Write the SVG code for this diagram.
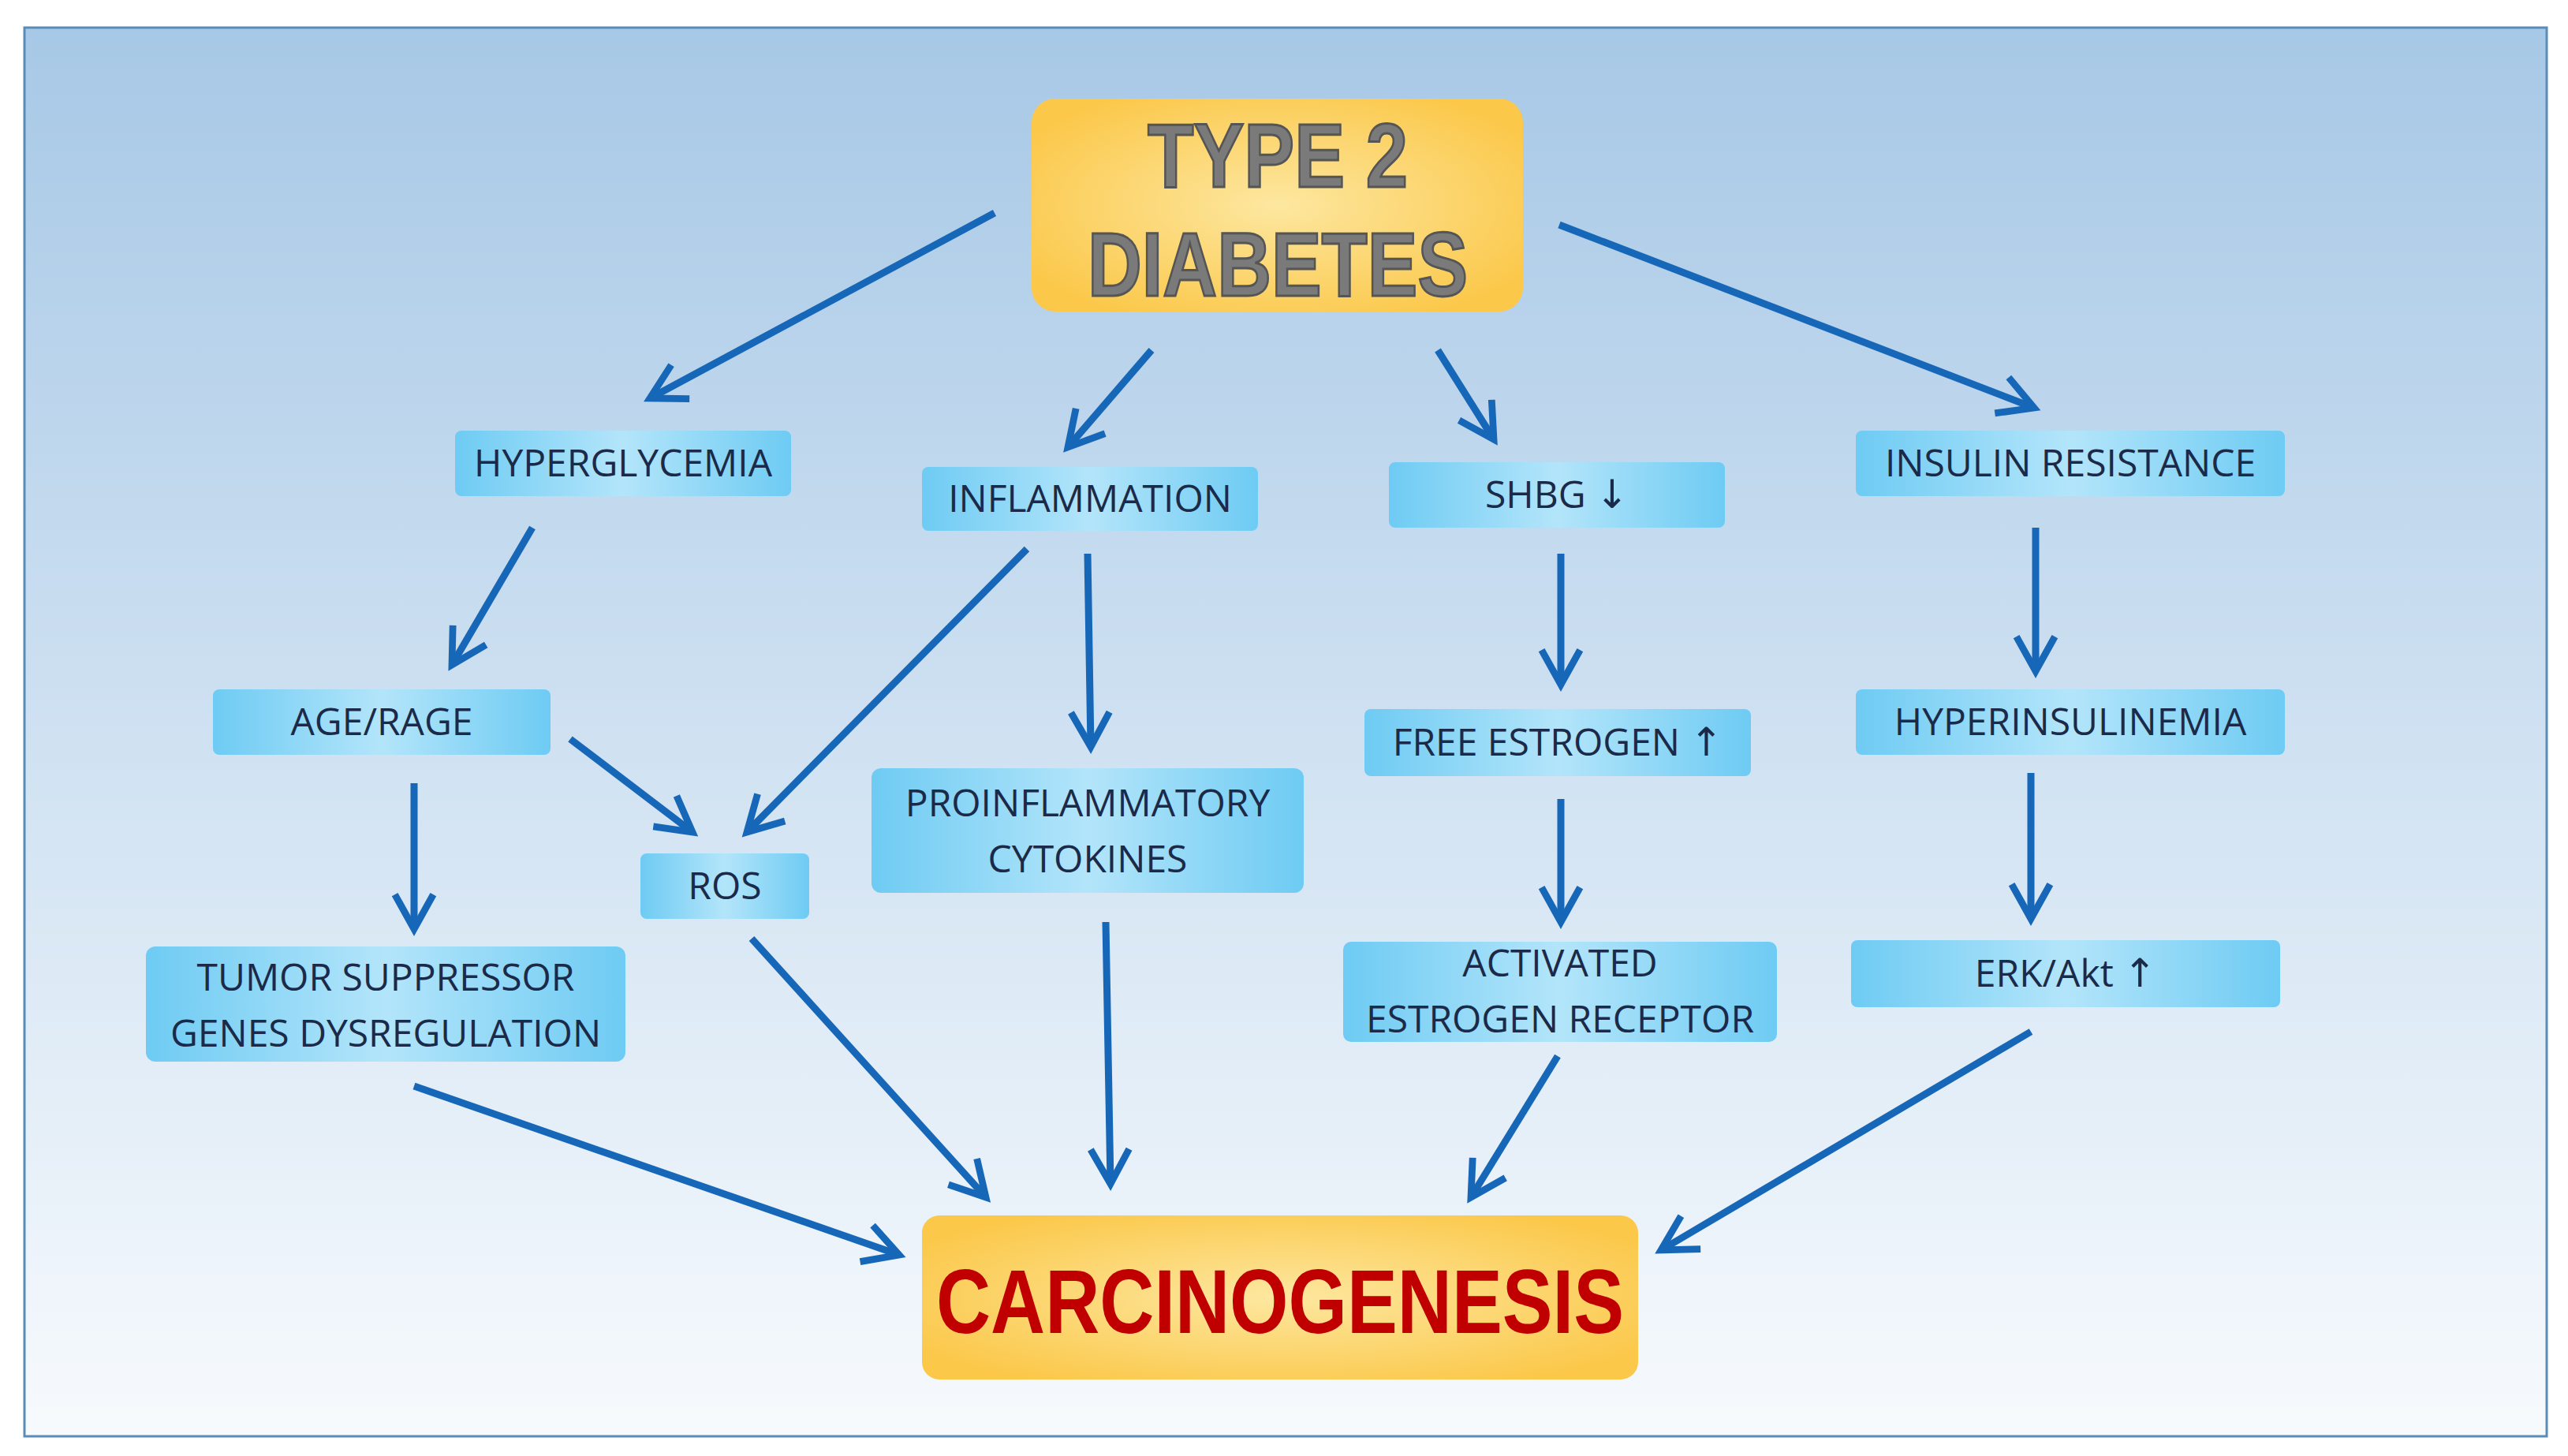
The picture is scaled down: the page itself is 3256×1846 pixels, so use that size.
<svg xmlns="http://www.w3.org/2000/svg" width="3256" height="1846" viewBox="0 0 3256 1846">
<defs>
<linearGradient id="bg" x1="0" y1="0" x2="0" y2="1"><stop offset="0" stop-color="#a7c8e6"/><stop offset="1" stop-color="#f7fafd"/></linearGradient>
<linearGradient id="nb" x1="0" y1="0" x2="1" y2="0"><stop offset="0" stop-color="#6ecbf3"/><stop offset="0.5" stop-color="#b3e5fa"/><stop offset="1" stop-color="#6ecbf3"/></linearGradient>
<radialGradient id="yb" cx="0.5" cy="0.5" r="0.6"><stop offset="0" stop-color="#fde7a0"/><stop offset="1" stop-color="#fbc84a"/></radialGradient>
<marker id="ah" viewBox="0 0 12 12" refX="10" refY="6" markerWidth="6.5" markerHeight="6.5" orient="auto" markerUnits="strokeWidth"><path d="M1,1 L10,6 L1,11" fill="none" stroke="#1767b8" stroke-width="1.8"/></marker>
</defs>
<style>
.n{fill:url(#nb)}
.t{font-family:"Open Sans","Liberation Sans",sans-serif;font-size:48px;fill:#1b2a48;text-anchor:middle}
.ar{font-family:"DejaVu Sans",sans-serif;font-size:50px}
.big{font-family:"Liberation Sans",Arial,sans-serif;font-weight:bold;text-anchor:middle}
.c line{stroke:#1767b8;stroke-width:9;marker-end:url(#ah)}
</style>
<rect x="0" y="0" width="3256" height="1846" fill="#fff"/>
<rect x="31" y="35" width="3198" height="1786" fill="url(#bg)" stroke="#5a8cb8" stroke-width="3"/>
<g id="type2"><rect x="1308" y="125" width="623" height="270" rx="30" fill="url(#yb)"/>
<text class="big" x="1620" y="237" font-size="115" fill="#7a7a7a" stroke="#555" stroke-width="3" textLength="330" lengthAdjust="spacingAndGlyphs">TYPE 2</text>
<text class="big" x="1620" y="375" font-size="115" fill="#7a7a7a" stroke="#555" stroke-width="3" textLength="482" lengthAdjust="spacingAndGlyphs">DIABETES</text></g>
<g id="hyperglycemia"><rect class="n" x="577" y="546" width="426" height="83" rx="8"/><text class="t" x="790" y="604">HYPERGLYCEMIA</text></g>
<g id="inflammation"><rect class="n" x="1169" y="592" width="426" height="81" rx="8"/><text class="t" x="1382" y="649">INFLAMMATION</text></g>
<g id="shbg"><rect class="n" x="1761" y="586" width="426" height="83" rx="8"/><text class="t" x="1974" y="644">SHBG <tspan class="ar">↓</tspan></text></g>
<g id="insulinresistance"><rect class="n" x="2353" y="546" width="544" height="83" rx="8"/><text class="t" x="2625" y="604">INSULIN RESISTANCE</text></g>
<g id="agerage"><rect class="n" x="270" y="874" width="428" height="83" rx="8"/><text class="t" x="484" y="932">AGE/RAGE</text></g>
<g id="ros"><rect class="n" x="812" y="1082" width="214" height="83" rx="8"/><text class="t" x="919" y="1140">ROS</text></g>
<g id="cytokines"><rect class="n" x="1105" y="974" width="548" height="158" rx="12"/><text class="t" x="1379" y="1035">PROINFLAMMATORY</text><text class="t" x="1379" y="1106">CYTOKINES</text></g>
<g id="freeestrogen"><rect class="n" x="1730" y="899" width="490" height="85" rx="8"/><text class="t" x="1975" y="958">FREE ESTROGEN <tspan class="ar">↑</tspan></text></g>
<g id="hyperinsulinemia"><rect class="n" x="2353" y="874" width="544" height="83" rx="8"/><text class="t" x="2625" y="932">HYPERINSULINEMIA</text></g>
<g id="tumor"><rect class="n" x="185" y="1200" width="608" height="146" rx="12"/><text class="t" x="489" y="1256">TUMOR SUPPRESSOR</text><text class="t" x="489" y="1327">GENES DYSREGULATION</text></g>
<g id="activated"><rect class="n" x="1703" y="1194" width="550" height="127" rx="10"/><text class="t" x="1978" y="1238">ACTIVATED</text><text class="t" x="1978" y="1309">ESTROGEN RECEPTOR</text></g>
<g id="erkakt"><rect class="n" x="2347" y="1192" width="544" height="85" rx="8"/><text class="t" x="2619" y="1251">ERK/Akt <tspan class="ar">↑</tspan></text></g>
<g id="carcinogenesis"><rect x="1169" y="1541" width="908" height="208" rx="22" fill="url(#yb)"/>
<text class="big" x="1623" y="1690" font-size="115" fill="#c00000" textLength="872" lengthAdjust="spacingAndGlyphs">CARCINOGENESIS</text></g>
<g id="connectors" class="c">
<line x1="1261" y1="270" x2="824" y2="505"/>
<line x1="1460" y1="444" x2="1354" y2="567"/>
<line x1="1823" y1="444" x2="1894" y2="557"/>
<line x1="1977" y1="285" x2="2579" y2="517"/>
<line x1="675" y1="669" x2="573" y2="843"/>
<line x1="1302" y1="696" x2="947" y2="1055"/>
<line x1="1379" y1="702" x2="1383" y2="947"/>
<line x1="1979" y1="702" x2="1979" y2="868"/>
<line x1="2581" y1="669" x2="2581" y2="851"/>
<line x1="723" y1="937" x2="878" y2="1055"/>
<line x1="525" y1="993" x2="525" y2="1178"/>
<line x1="1979" y1="1013" x2="1979" y2="1169"/>
<line x1="2575" y1="980" x2="2575" y2="1165"/>
<line x1="525" y1="1377" x2="1140" y2="1591"/>
<line x1="953" y1="1190" x2="1250" y2="1518"/>
<line x1="1402" y1="1169" x2="1408" y2="1501"/>
<line x1="1975" y1="1339" x2="1865" y2="1518"/>
<line x1="2575" y1="1308" x2="2106" y2="1585"/>
</g>
</svg>
